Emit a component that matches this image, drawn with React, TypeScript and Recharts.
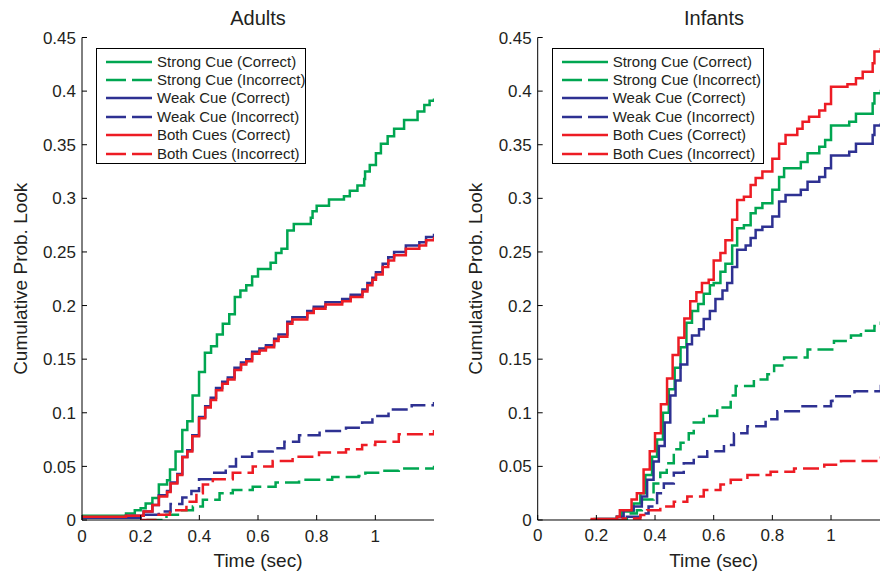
import React from 'react';
import { LineChart, Line, XAxis, YAxis, Label } from 'recharts';

type Pt = [number, number];

// legend order = draw order
const seriesNames = [
  'Strong Cue (Correct)',
  'Strong Cue (Incorrect)',
  'Weak Cue (Correct)',
  'Weak Cue (Incorrect)',
  'Both Cues (Correct)',
  'Both Cues (Incorrect)',
];
const xTicks = [0, 0.2, 0.4, 0.6, 0.8, 1];
const yTicks = [0, 0.05, 0.1, 0.15, 0.2, 0.25, 0.3, 0.35, 0.4, 0.45];

// Adults — [time (sec), cumulative prob]
const adultsStrongCorrect: Pt[] = [
  [0, 0.004], [0.15, 0.006], [0.18, 0.009], [0.2, 0.011], [0.217, 0.0155], [0.24, 0.0205],
  [0.262, 0.033], [0.29, 0.037], [0.3, 0.047], [0.319, 0.064], [0.342, 0.084], [0.359, 0.092],
  [0.377, 0.116], [0.399, 0.138], [0.419, 0.156], [0.44, 0.162], [0.46, 0.173], [0.48, 0.183],
  [0.502, 0.192], [0.521, 0.208], [0.54, 0.214], [0.56, 0.219], [0.58, 0.227], [0.6, 0.234],
  [0.643, 0.24], [0.661, 0.249], [0.68, 0.253], [0.7, 0.27], [0.722, 0.276], [0.78, 0.282],
  [0.786, 0.288], [0.8, 0.293], [0.842, 0.299], [0.893, 0.302], [0.913, 0.307], [0.939, 0.312],
  [0.962, 0.318], [0.965, 0.325], [0.981, 0.331], [1.002, 0.342], [1.019, 0.351], [1.042, 0.358],
  [1.064, 0.365], [1.098, 0.373], [1.144, 0.381], [1.167, 0.387], [1.185, 0.391], [1.2, 0.393],
];
const adultsStrongIncorrect: Pt[] = [
  [0.22, 0], [0.288, 0.005], [0.333, 0.009], [0.378, 0.0125], [0.412, 0.019], [0.469, 0.025],
  [0.514, 0.028], [0.582, 0.031], [0.66, 0.035], [0.74, 0.0375], [0.853, 0.04], [0.943, 0.041],
  [0.966, 0.044], [1.02, 0.046], [1.08, 0.048], [1.2, 0.0505],
];
const adultsWeakCorrect: Pt[] = [
  [0, 0.002], [0.15, 0.004], [0.21, 0.008], [0.24, 0.014], [0.262, 0.023], [0.29, 0.027],
  [0.302, 0.035], [0.325, 0.043], [0.342, 0.059], [0.359, 0.065], [0.376, 0.079], [0.399, 0.096],
  [0.42, 0.106], [0.439, 0.114], [0.457, 0.123], [0.478, 0.129], [0.497, 0.133], [0.52, 0.142],
  [0.542, 0.147], [0.56, 0.15], [0.58, 0.157], [0.605, 0.16], [0.627, 0.163], [0.655, 0.169],
  [0.67, 0.173], [0.7, 0.185], [0.717, 0.189], [0.768, 0.195], [0.79, 0.199], [0.83, 0.203],
  [0.887, 0.206], [0.916, 0.21], [0.956, 0.215], [0.973, 0.221], [0.99, 0.226], [1.002, 0.231],
  [1.025, 0.239], [1.044, 0.245], [1.064, 0.25], [1.104, 0.256], [1.15, 0.259], [1.173, 0.264],
  [1.2, 0.267],
];
const adultsWeakIncorrect: Pt[] = [
  [0.15, 0.002], [0.2, 0.005], [0.262, 0.008], [0.302, 0.015], [0.342, 0.021], [0.373, 0.027],
  [0.399, 0.038], [0.446, 0.044], [0.49, 0.05], [0.525, 0.059], [0.58, 0.064], [0.65, 0.067],
  [0.69, 0.073], [0.74, 0.079], [0.81, 0.083], [0.9, 0.086], [0.955, 0.091], [0.99, 0.097],
  [1.045, 0.103], [1.124, 0.107], [1.2, 0.11],
];
const adultsBothCorrect: Pt[] = [
  [0, 0.003], [0.15, 0.004], [0.21, 0.008], [0.24, 0.014], [0.262, 0.022], [0.29, 0.026],
  [0.302, 0.034], [0.325, 0.042], [0.342, 0.0585], [0.359, 0.064], [0.376, 0.078], [0.399, 0.095],
  [0.42, 0.105], [0.439, 0.112], [0.457, 0.121], [0.478, 0.127], [0.497, 0.131], [0.52, 0.14],
  [0.542, 0.145], [0.56, 0.148], [0.58, 0.155], [0.605, 0.158], [0.627, 0.161], [0.655, 0.167],
  [0.67, 0.171], [0.7, 0.183], [0.717, 0.187], [0.768, 0.193], [0.79, 0.197], [0.83, 0.201],
  [0.887, 0.204], [0.916, 0.208], [0.956, 0.213], [0.973, 0.219], [0.99, 0.224], [1.002, 0.229],
  [1.025, 0.236], [1.044, 0.242], [1.064, 0.247], [1.104, 0.253], [1.15, 0.256], [1.173, 0.261],
  [1.2, 0.264],
];
const adultsBothIncorrect: Pt[] = [
  [0.2, 0], [0.254, 0.005], [0.3, 0.009], [0.356, 0.017], [0.39, 0.025], [0.412, 0.033],
  [0.446, 0.038], [0.514, 0.044], [0.582, 0.05], [0.65, 0.055], [0.718, 0.059], [0.808, 0.063],
  [0.9, 0.066], [0.955, 0.07], [1.0, 0.073], [1.08, 0.08], [1.2, 0.084],
];

// Infants
const infantsStrongCorrect: Pt[] = [
  [0.19, 0.001], [0.27, 0.003], [0.287, 0.008], [0.327, 0.0155], [0.35, 0.025], [0.367, 0.042],
  [0.39, 0.059], [0.407, 0.075], [0.427, 0.1], [0.447, 0.122], [0.467, 0.142], [0.487, 0.161],
  [0.507, 0.184], [0.526, 0.195], [0.547, 0.2015], [0.566, 0.211], [0.587, 0.219], [0.6, 0.221],
  [0.623, 0.2316], [0.64, 0.239], [0.663, 0.256], [0.68, 0.272], [0.703, 0.275], [0.726, 0.286],
  [0.743, 0.291], [0.766, 0.2955], [0.8, 0.308], [0.823, 0.32], [0.84, 0.328], [0.897, 0.334],
  [0.92, 0.342], [0.96, 0.348], [0.98, 0.3545], [1.0, 0.368], [1.062, 0.3715], [1.085, 0.379],
  [1.142, 0.3885], [1.148, 0.398], [1.17, 0.4], [1.2, 0.402],
];
const infantsStrongIncorrect: Pt[] = [
  [0.26, 0], [0.304, 0.006], [0.338, 0.009], [0.355, 0.019], [0.395, 0.034], [0.418, 0.044],
  [0.44, 0.053], [0.464, 0.066], [0.487, 0.072], [0.515, 0.081], [0.532, 0.091], [0.566, 0.097],
  [0.612, 0.105], [0.658, 0.116], [0.675, 0.125], [0.737, 0.131], [0.783, 0.136], [0.806, 0.144],
  [0.84, 0.1515], [0.92, 0.159], [1.01, 0.167], [1.068, 0.172], [1.102, 0.1765], [1.148, 0.181],
  [1.17, 0.184], [1.2, 0.185],
];
const infantsWeakCorrect: Pt[] = [
  [0.2, 0.001], [0.27, 0.003], [0.293, 0.009], [0.327, 0.0125], [0.355, 0.022], [0.373, 0.0375],
  [0.395, 0.0545], [0.413, 0.069], [0.433, 0.091], [0.452, 0.116], [0.47, 0.13], [0.487, 0.145],
  [0.51, 0.164], [0.526, 0.172], [0.55, 0.178], [0.566, 0.1875], [0.587, 0.195], [0.606, 0.206],
  [0.63, 0.214], [0.646, 0.221], [0.663, 0.236], [0.68, 0.252], [0.709, 0.256], [0.726, 0.263],
  [0.743, 0.2705], [0.766, 0.2736], [0.8, 0.283], [0.823, 0.297], [0.845, 0.303], [0.897, 0.308],
  [0.92, 0.3155], [0.96, 0.32], [0.98, 0.328], [1.0, 0.34], [1.062, 0.3435], [1.085, 0.351],
  [1.142, 0.359], [1.148, 0.368], [1.17, 0.369], [1.2, 0.371],
];
const infantsWeakIncorrect: Pt[] = [
  [0.236, 0], [0.304, 0.003], [0.35, 0.006], [0.378, 0.0125], [0.407, 0.025], [0.43, 0.034],
  [0.464, 0.044], [0.498, 0.053], [0.532, 0.059], [0.578, 0.064], [0.635, 0.07], [0.669, 0.081],
  [0.715, 0.0875], [0.777, 0.094], [0.817, 0.1015], [0.897, 0.106], [1.0, 0.111], [1.005, 0.1155],
  [1.08, 0.12], [1.17, 0.125], [1.2, 0.126],
];
const infantsBothCorrect: Pt[] = [
  [0.18, 0.001], [0.27, 0.003], [0.28, 0.009], [0.32, 0.019], [0.338, 0.025], [0.361, 0.047],
  [0.382, 0.064], [0.4, 0.081], [0.42, 0.108], [0.441, 0.132], [0.46, 0.154], [0.48, 0.17],
  [0.5, 0.188], [0.52, 0.204], [0.541, 0.2125], [0.56, 0.221], [0.583, 0.224], [0.6, 0.242],
  [0.623, 0.249], [0.64, 0.261], [0.663, 0.28], [0.68, 0.2985], [0.703, 0.3015], [0.726, 0.3125],
  [0.743, 0.319], [0.766, 0.325], [0.8, 0.337], [0.823, 0.351], [0.845, 0.359], [0.885, 0.365],
  [0.903, 0.3715], [0.925, 0.376], [0.96, 0.382], [0.98, 0.388], [1.0, 0.404], [1.056, 0.4065],
  [1.085, 0.412], [1.108, 0.418], [1.142, 0.426], [1.148, 0.437], [1.17, 0.439], [1.2, 0.441],
];
const infantsBothIncorrect: Pt[] = [
  [0.18, 0], [0.29, 0.0015], [0.35, 0.0047], [0.373, 0.009], [0.418, 0.0125], [0.464, 0.017],
  [0.51, 0.022], [0.566, 0.028], [0.623, 0.033], [0.658, 0.0375], [0.715, 0.042], [0.794, 0.045],
  [0.874, 0.048], [0.977, 0.0515], [1.034, 0.055], [1.17, 0.058], [1.2, 0.0585],
];

const adultsSeries = [
  adultsStrongCorrect, adultsStrongIncorrect, adultsWeakCorrect,
  adultsWeakIncorrect, adultsBothCorrect, adultsBothIncorrect,
];
const infantsSeries = [
  infantsStrongCorrect, infantsStrongIncorrect, infantsWeakCorrect,
  infantsWeakIncorrect, infantsBothCorrect, infantsBothIncorrect,
];

const GREEN = '#00A651';
const BLUE = '#2E3192';
const RED = '#ED1C24';
const colors = [GREEN, GREEN, BLUE, BLUE, RED, RED];
const TXT = '#231F20';
const FONT = '"Liberation Sans", Arial, Helvetica, sans-serif';
const DASH = '16 6';

const PLOT_W = 352;
const PLOT_TOP = 37.5;
const CHART_H = 572;

const BottomTick = (p: any) => (
  <g>
    <line x1={p.x} y1={p.y} x2={p.x} y2={p.y - 5} stroke="#000" />
    <text x={p.x} y={p.y + 21.5} textAnchor="middle" fontSize={17} fill={TXT} fontFamily={FONT}>
      {String(p.payload.value)}
    </text>
  </g>
);
const TopTick = (p: any) => <line x1={p.x} y1={p.y} x2={p.x} y2={p.y + 5} stroke="#000" />;
const LeftTick = (p: any) => (
  <g>
    <line x1={p.x} y1={p.y} x2={p.x + 5} y2={p.y} stroke="#000" />
    <text x={p.x - 6} y={p.y} dy="0.36em" textAnchor="end" fontSize={17} fill={TXT} fontFamily={FONT}>
      {String(p.payload.value)}
    </text>
  </g>
);
const RightTick = (p: any) => <line x1={p.x} y1={p.y} x2={p.x - 5} y2={p.y} stroke="#000" />;

const LegendBox = ({ width }: { width: number }) => (
  <div
    style={{
      position: 'absolute', left: 14, top: 10.5, width, height: 116, boxSizing: 'border-box',
      border: '1.3px solid #000', background: '#fff', fontFamily: FONT, fontSize: 15, color: TXT,
    }}
  >
    {seriesNames.map((name, i) => (
      <div key={name} style={{ position: 'absolute', left: 0, top: 3.5 + i * 18.4, height: 18, display: 'flex', alignItems: 'center' }}>
        <svg width={60} height={18} style={{ display: 'block' }}>
          <line x1={9} y1={9} x2={55} y2={9} stroke={colors[i]} strokeWidth={2.5} strokeDasharray={i % 2 ? '20 6' : undefined} />
        </svg>
        <span style={{ whiteSpace: 'nowrap', lineHeight: '18px' }}>{name}</span>
      </div>
    ))}
  </div>
);

const Panel = ({ title, series, left, leftPad, legendW }: { title: string; series: Pt[][]; left: number; leftPad: number; legendW: number }) => {
  const width = leftPad + 60 + PLOT_W + 10;
  const plotLeft = leftPad + 60;
  return (
    <div style={{ position: 'absolute', left, top: 0, width, height: CHART_H }}>
      <LineChart width={width} height={CHART_H} margin={{ top: PLOT_TOP, right: 10, bottom: 22, left: leftPad }}>
        <XAxis dataKey="t" type="number" domain={[0, 1.2]} ticks={xTicks} interval={0} allowDataOverflow
          height={30} tickSize={0} tickMargin={0} tickLine={false} tick={<BottomTick />} axisLine={{ stroke: '#000' }}>
          <Label value="Time (sec)" position="bottom" offset={4} fontSize={19} fill={TXT} fontFamily={FONT} />
        </XAxis>
        <XAxis xAxisId="top" orientation="top" dataKey="t" type="number" domain={[0, 1.2]} ticks={xTicks} interval={0}
          allowDataOverflow height={0} tickSize={0} tickMargin={0} tickLine={false} tick={<TopTick />} axisLine={{ stroke: '#000' }} />
        <YAxis type="number" domain={[0, 0.45]} ticks={yTicks} interval={0} allowDataOverflow width={60}
          tickSize={0} tickMargin={0} tickLine={false} tick={<LeftTick />} axisLine={{ stroke: '#000' }}>
          <Label value="Cumulative Prob. Look" angle={-90} position="insideLeft" offset={-2}
            style={{ textAnchor: 'middle' }} fontSize={19} fill={TXT} fontFamily={FONT} />
        </YAxis>
        <YAxis yAxisId="right" orientation="right" type="number" domain={[0, 0.45]} ticks={yTicks} interval={0}
          allowDataOverflow width={0} tickSize={0} tickMargin={0} tickLine={false} tick={<RightTick />} axisLine={{ stroke: '#000' }} />
        {series.map((pts, i) => (
          <Line
            key={seriesNames[i]}
            name={seriesNames[i]}
            data={pts.map(([t, v]) => ({ t, v }))}
            dataKey="v"
            type="stepAfter"
            stroke={colors[i]}
            strokeWidth={2.5}
            strokeDasharray={i % 2 ? DASH : undefined}
            dot={false}
            activeDot={false}
            isAnimationActive={false}
          />
        ))}
      </LineChart>
      <svg width={PLOT_W} height={32} style={{ position: 'absolute', left: plotLeft, top: 0 }}>
        <text x={PLOT_W / 2} y={25} textAnchor="middle" fontSize={20} fill={TXT} fontFamily={FONT}>{title}</text>
      </svg>
      <div style={{ position: 'absolute', left: plotLeft, top: PLOT_TOP }}>
        <LegendBox width={legendW} />
      </div>
    </div>
  );
};

export default function App() {
  return (
    <div style={{ position: 'absolute', left: 0, top: 0, width: 880, height: 572, overflow: 'hidden', background: '#fff' }}>
      <Panel title="Adults" series={adultsSeries} left={0} leftPad={22} legendW={210} />
      <Panel title="Infants" series={infantsSeries} left={440} leftPad={37.7} legendW={212} />
    </div>
  );
}
